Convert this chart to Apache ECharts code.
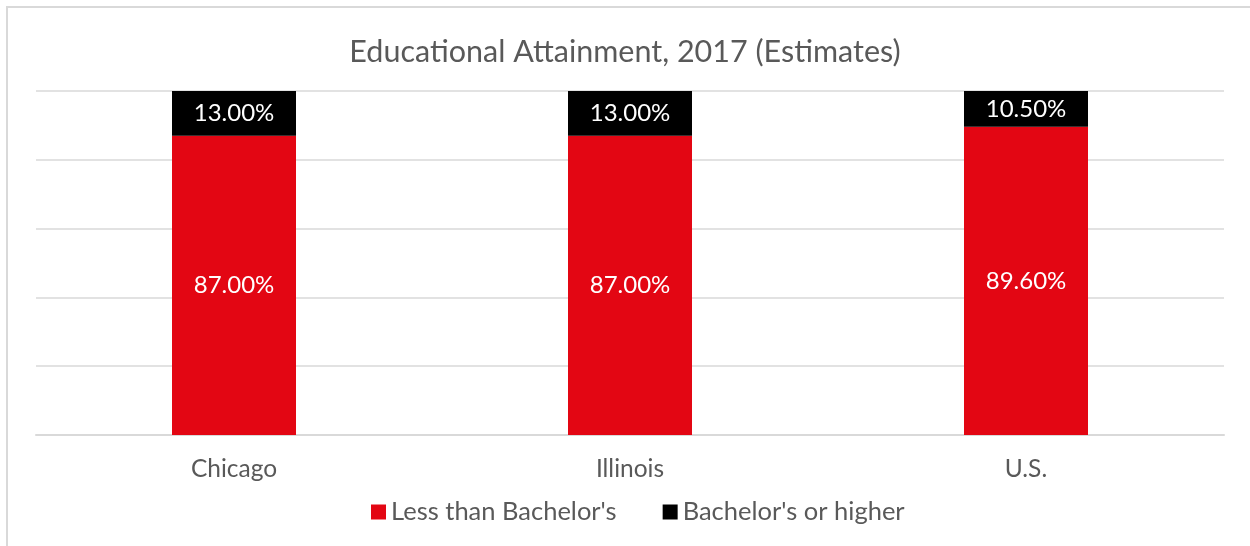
<!DOCTYPE html>
<html>
<head>
<meta charset="utf-8">
<script src="https://cdn.jsdelivr.net/npm/echarts@6/dist/echarts.min.js"></script>
<style>
  html, body { margin: 0; padding: 0; background: #fff; }
  #chart { width: 1250px; height: 546px; }
</style>
</head>
<body>
<div id="chart"></div>
<script>
var categories = ['Chicago', 'Illinois', 'U.S.'];
var lessThanBachelors = [87.0, 87.0, 89.6];
var bachelorsOrHigher = [13.0, 13.0, 10.5];
var seriesNames = ["Less than Bachelor's", "Bachelor's or higher"];

var fontFam = 'Lato, "Noto Sans", sans-serif';
var myChart = echarts.init(document.getElementById('chart'));

function pct(p) {
    return p.value.toFixed(2) + '%';
}

var option = {
    animation: false,
    backgroundColor: '#fff',
    title: {
        text: 'Educational Attainment, 2017 (Estimates)',
        left: 'center',
        top: 32,
        textStyle: { color: '#595959', fontSize: 30.5, fontWeight: 'normal', fontFamily: fontFam }
    },
    graphic: [{
        type: 'rect',
        shape: { x: 7, y: 7, width: 1400, height: 700 },
        style: { fill: 'none', stroke: '#d9d9d9', lineWidth: 2 },
        silent: true
    }],
    legend: {
        bottom: 16,
        left: 366,
        icon: 'rect',
        itemWidth: 15,
        itemHeight: 15,
        itemGap: 46,
        textStyle: { color: '#595959', fontSize: 25.5, fontFamily: fontFam },
        data: seriesNames
    },
    grid: { left: 36, right: 26, top: 91, bottom: 111 },
    xAxis: {
        type: 'category',
        data: categories,
        axisLine: { lineStyle: { color: '#d9d9d9', width: 2 } },
        axisTick: { show: false },
        axisLabel: { color: '#595959', fontSize: 24.5, margin: 22, fontFamily: fontFam }
    },
    yAxis: {
        type: 'value',
        min: 0,
        max: 100,
        interval: 20,
        axisLine: { show: false },
        axisTick: { show: false },
        axisLabel: { show: false },
        splitLine: { lineStyle: { color: '#d9d9d9', width: 1.5 } }
    },
    series: [{
        name: seriesNames[0],
        type: 'bar',
        stack: 'total',
        barWidth: 124,
        data: lessThanBachelors,
        itemStyle: { color: '#E30613' },
        label: { show: true, position: 'inside', color: '#fff', fontSize: 24, fontFamily: fontFam, formatter: pct }
    }, {
        name: seriesNames[1],
        type: 'bar',
        stack: 'total',
        barWidth: 124,
        data: bachelorsOrHigher,
        itemStyle: { color: '#000' },
        label: { show: true, position: 'inside', color: '#fff', fontSize: 24, fontFamily: fontFam, formatter: pct }
    }]
};
myChart.setOption(option);
</script>
</body>
</html>
